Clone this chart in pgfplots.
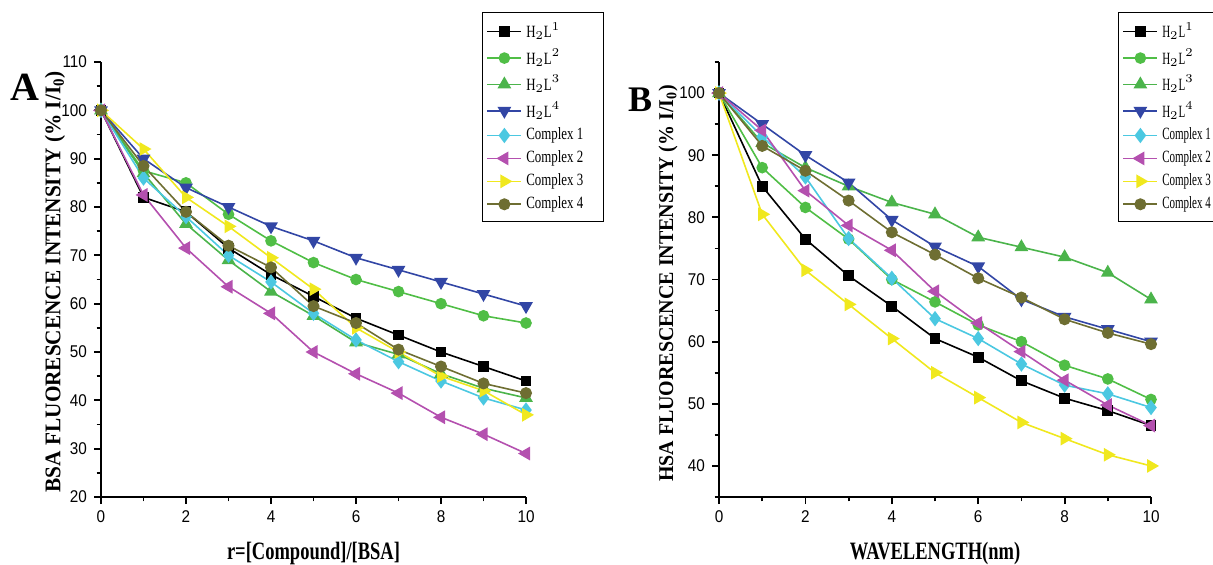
\documentclass[border=0pt]{standalone}
\usepackage{fontspec}
\setmainfont{Liberation Serif}
\newfontfamily\tickfont[FakeStretch=0.9]{Liberation Sans}
\newfontfamily\legfont[FakeStretch=0.75]{Liberation Serif}
\newfontfamily\legfontB[FakeStretch=0.64]{Liberation Serif}
\newfontfamily\labfont[FakeStretch=0.95]{Liberation Serif}
\newfontfamily\xlabfont[FakeStretch=0.74]{Liberation Serif}
\usepackage{pgfplots}
\usepackage{pgfplotstable}
\pgfplotsset{compat=1.18}

\definecolor{cHLtwo}{RGB}{80,190,70}
\definecolor{cHLthree}{RGB}{75,180,75}
\definecolor{cHLfour}{RGB}{50,70,165}
\definecolor{cCone}{RGB}{75,200,225}
\definecolor{cCtwo}{RGB}{180,80,175}
\definecolor{cCthree}{RGB}{240,232,30}
\definecolor{cCfour}{RGB}{110,110,50}

\pgfplotstableread{
x  h1    h2    h3    h4    c1    c2    c3    c4
0  100   100   100   100   100   100   100   100
1  82    87.5  87    90    86    82.5  92    88.5
2  79    85    76.5  84    78    71.5  82    79
3  71.5  78.5  69    80    70    63.5  76    72
4  66    73    62.5  76    64.5  58    69.5  67.5
5  61.5  68.5  57.5  73    58    50    63    59.5
6  57    65    52    69.5  52.5  45.5  55    56
7  53.5  62.5  49.5  67    48    41.5  50    50.5
8  50    60    45.5  64.5  44    36.5  45    47
9  47    57.5  42.5  62    40.5  33    42    43.5
10 44    56    40.5  59.5  38    29    37    41.5
}\dataA

\pgfplotstableread{
x  h1    h2    h3    h4    c1    c2    c3    c4
0  100   100   100   100   100   100   100   100
1  85    88    92    95    93    94    80.5  91.5
2  76.5  81.6  88    90    86.5  84.3  71.5  87.5
3  70.6  76.5  85    85.6  76.6  78.7  66    82.7
4  65.7  70    82.4  79.6  70.2  74.7  60.5  77.6
5  60.5  66.4  80.5  75.3  63.7  68.1  55    74
6  57.5  62.7  76.8  72.1  60.5  63    51    70.2
7  53.7  60    75.2  66.8  56.4  58.4  47    67.1
8  50.9  56.2  73.6  64    53    53.8  44.4  63.6
9  48.9  54    71.1  62    51.6  49.8  41.8  61.4
10 46.5  50.7  66.8  60    49.4  46.5  40    59.6
}\dataB

\pgfplotsset{
  base/.style={
    scale only axis, height=217.5pt,
    axis x line*=bottom, axis y line*=left,
    axis line style={line width=1pt,-},
    xmin=0, xmax=10, xtick={0,2,...,10}, minor xtick={1,3,...,9},
    tick align=outside, major tick length=3.5pt, minor tick length=2.2pt,
    every tick/.style={black, line width=0.9pt},
    tick label style={font=\tickfont\fontsize{8.5}{10}\selectfont},
    /pgf/number format/assume math mode=true,
    clip=false,
    every axis plot/.append style={line width=0.8pt},
    legend style={draw=black, line width=0.5pt, anchor=north west,
      cells={anchor=west},
      inner xsep=2pt, inner ysep=3pt, row sep=0pt},
    legend cell align=left,
    xlabel style={font=\xlabfont\bfseries\fontsize{12.5}{14}\selectfont, at={(axis description cs:0.5,-0.129)}, anchor=center},
  },
  s1/.style={black, mark=square*, mark size=2.3pt, mark options={solid}},
  s2/.style={cHLtwo, mark=*, mark size=2.5pt, mark options={solid}},
  s3/.style={cHLthree, mark=triangle*, mark size=3.2pt, mark options={solid}},
  s4/.style={cHLfour, mark=triangle*, mark size=3.2pt, mark options={solid, rotate=180}},
  s5/.style={cCone, mark=diamond*, mark size=3.2pt, mark options={solid}},
  s6/.style={cCtwo, mark=triangle*, mark size=3.2pt, mark options={solid, rotate=90}},
  s7/.style={cCthree, mark=triangle*, mark size=3.2pt, mark options={solid, rotate=-90}},
  s8/.style={cCfour, mark=*, mark size=2.6pt, mark options={solid}},
}

\begin{document}
\begin{tikzpicture}
\path[use as bounding box] (0,0) rectangle (606.5pt,282pt);

\begin{axis}[base, width=212.5pt, at={(50.5pt,33.5pt)}, anchor=south west,
  ymin=20, ymax=110, ytick={20,30,...,110}, minor ytick={25,35,...,105},
  xlabel={r=[Compound]/[BSA]},
  ylabel={BSA FLUORESCENCE INTENSITY (\% I/I\textsubscript{0})},
  ylabel style={font=\labfont\bfseries\fontsize{11.2}{13}\selectfont, at={(axis description cs:-0.108,0.495)}, anchor=center},
  legend style={at={(axis description cs:0.8965,1.115)}, font=\legfont\fontsize{8.6}{10}\selectfont},
]
\addplot[s1] table[x=x,y=h1]{\dataA}; \addlegendentry{H$_2$L$^1$}
\addplot[s2] table[x=x,y=h2]{\dataA}; \addlegendentry{H$_2$L$^2$}
\addplot[s3] table[x=x,y=h3]{\dataA}; \addlegendentry{H$_2$L$^3$}
\addplot[s4] table[x=x,y=h4]{\dataA}; \addlegendentry{H$_2$L$^4$}
\addplot[s5] table[x=x,y=c1]{\dataA}; \addlegendentry{Complex 1\hspace*{6pt}}
\addplot[s6] table[x=x,y=c2]{\dataA}; \addlegendentry{Complex 2}
\addplot[s7] table[x=x,y=c3]{\dataA}; \addlegendentry{Complex 3}
\addplot[s8] table[x=x,y=c4]{\dataA}; \addlegendentry{Complex 4}
\end{axis}

\begin{axis}[base, width=216pt, at={(359.5pt,33.5pt)}, anchor=south west,
  ymin=35, ymax=105, ytick={40,50,...,100}, minor ytick={35,45,...,105},
  xlabel={WAVELENGTH(nm)},
  ylabel={HSA FLUORESCENCE INTENSITY (\% I/I\textsubscript{0})},
  ylabel style={font=\labfont\bfseries\fontsize{10.5}{12}\selectfont, at={(axis description cs:-0.118,0.491)}, anchor=center},
  legend style={at={(axis description cs:0.9236,1.115)}, font=\legfontB\fontsize{8.6}{10}\selectfont},
]
\addplot[s1] table[x=x,y=h1]{\dataB}; \addlegendentry{H$_2$L$^1$}
\addplot[s2] table[x=x,y=h2]{\dataB}; \addlegendentry{H$_2$L$^2$}
\addplot[s3] table[x=x,y=h3]{\dataB}; \addlegendentry{H$_2$L$^3$}
\addplot[s4] table[x=x,y=h4]{\dataB}; \addlegendentry{H$_2$L$^4$}
\addplot[s5] table[x=x,y=c1]{\dataB}; \addlegendentry{Complex 1}
\addplot[s6] table[x=x,y=c2]{\dataB}; \addlegendentry{Complex 2}
\addplot[s7] table[x=x,y=c3]{\dataB}; \addlegendentry{Complex 3}
\addplot[s8] table[x=x,y=c4]{\dataB}; \addlegendentry{Complex 4}
\end{axis}

\node[font=\bfseries\fontsize{20}{22}\selectfont] at (12.5pt,238.5pt) {A};
\node[font=\bfseries\fontsize{18}{20}\selectfont] at (320pt,232pt) {B};
\end{tikzpicture}
\end{document}
